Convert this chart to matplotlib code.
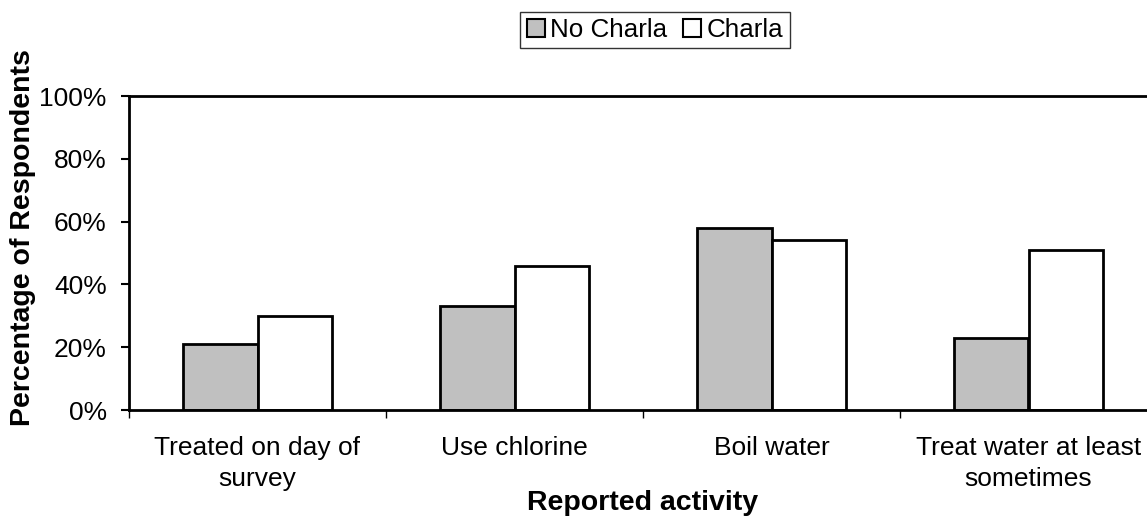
import matplotlib
matplotlib.use("Agg")
import matplotlib.pyplot as plt
from matplotlib.patches import Patch
from matplotlib.ticker import FixedLocator, PercentFormatter
import numpy as np

plt.rcParams['font.family'] = ['Liberation Sans', 'DejaVu Sans']

categories = ["Treated on day of\nsurvey", "Use chlorine", "Boil water",
              "Treat water at least\nsometimes"]
no_charla = [21, 33, 58, 23]
charla = [30, 46, 54, 51]
series_names = ["No Charla", "Charla"]
y_ticks = [0, 20, 40, 60, 80, 100]

gray = "#C0C0C0"
bar_w = 0.288

fig = plt.figure(figsize=(11.47, 5.16), dpi=100)
ax = fig.add_axes([129 / 1147, 1 - 410 / 516, 1028 / 1147, 314 / 516])

x = np.arange(len(categories))
ax.bar(x - bar_w / 2, no_charla, bar_w, color=gray, edgecolor="black", linewidth=2)
ax.bar(x + bar_w / 2, charla, bar_w, color="white", edgecolor="black", linewidth=2)

ax.set_xlim(-0.5, len(categories) - 0.5)
ax.set_ylim(0, 100)

# tick marks sit on category boundaries, labels in the middle
ax.xaxis.set_major_locator(FixedLocator(np.arange(-0.5, len(categories), 1.0)))
ax.xaxis.set_minor_locator(FixedLocator(x))
ax.set_xticklabels([])
ax.set_xticklabels(categories, minor=True, linespacing=1.35)
ax.tick_params(axis="x", which="major", length=6, width=1, direction="out")
ax.tick_params(axis="x", which="minor", length=0, pad=19, labelsize=19)

ax.set_yticks(y_ticks)
ax.yaxis.set_major_formatter(PercentFormatter(decimals=0))
ax.tick_params(axis="y", length=6, width=1.5, direction="out", pad=10, labelsize=19)

for sp in ax.spines.values():
    sp.set_linewidth(2)
    sp.set_color("black")

fig.text(643 / 1147, 1 - 503 / 516, "Reported activity", fontsize=20.5,
         fontweight="bold", ha="center", va="center")
fig.text(23 / 1147, 1 - 238 / 516, "Percentage of Respondents", rotation=90,
         fontsize=20.5, fontweight="bold", ha="center", va="center")

handles = [Patch(facecolor=gray, edgecolor="black", linewidth=1.5),
           Patch(facecolor="white", edgecolor="black", linewidth=1.5)]
leg = fig.legend(handles, series_names, loc="center", ncol=2,
                 bbox_to_anchor=(655 / 1147, 1 - 30 / 516), fontsize=18.7,
                 frameon=True, fancybox=False, edgecolor="black",
                 handlelength=0.7, handleheight=0.7, handletextpad=0.2,
                 columnspacing=0.6, borderpad=0.25, borderaxespad=0)
leg.get_frame().set_linewidth(1)

fig.savefig("out.png", dpi=100)
